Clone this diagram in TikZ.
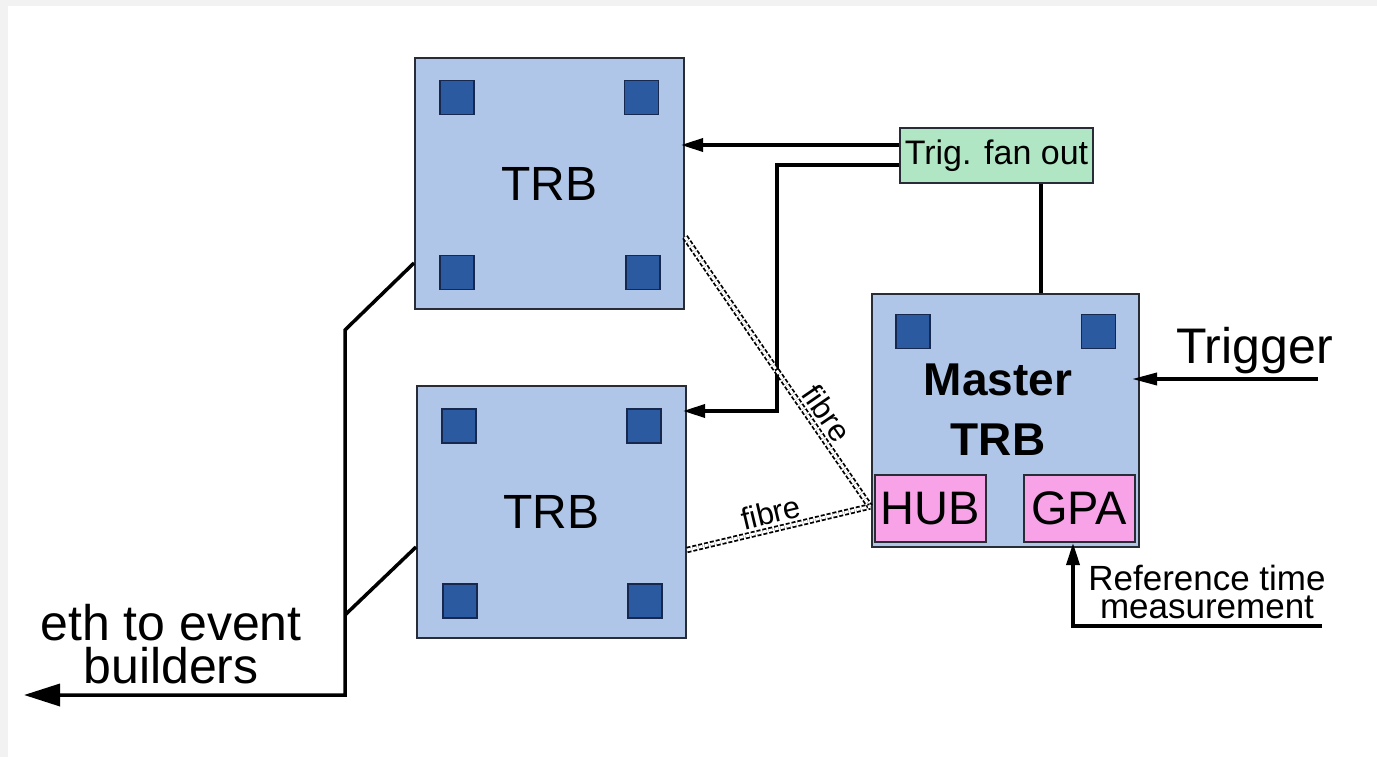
\documentclass[tikz,border=0pt]{standalone}
\usepackage{fontspec}
\setmainfont{Liberation Sans}
\usetikzlibrary{arrows.meta}

\definecolor{pagegray}{RGB}{242,242,242}
\definecolor{boardfill}{RGB}{176,198,232}
\definecolor{boardedge}{RGB}{40,44,54}
\definecolor{padblue}{RGB}{44,90,160}
\definecolor{padedge}{RGB}{22,40,78}
\definecolor{fanfill}{RGB}{176,230,196}
\definecolor{modfill}{RGB}{248,163,232}

\newcommand\sizetxt[2]{\fontsize{#1}{#2}\selectfont}

\begin{document}
\begin{tikzpicture}[x=1pt,y=-1pt,
  board/.style={draw=boardedge, line width=2pt, fill=boardfill, inner sep=0pt},
  pad/.style={draw=padedge, line width=1.5pt, fill=padblue, minimum size=34pt, inner sep=0pt},
  module/.style={draw=boardedge, line width=2pt, fill=modfill, inner sep=0pt,
                 minimum width=111pt, minimum height=67pt, font=\sizetxt{47}{47}},
  fanbox/.style={draw=boardedge, line width=2pt, fill=fanfill, inner sep=0pt,
                 minimum width=193pt, minimum height=55pt, font=\sizetxt{34}{34}},
  wire/.style={line width=3.5pt, black},
  arr/.style={wire, -{Triangle[length=22pt,width=13pt]}},
  fibre/.style={line width=1.8pt, draw=black, double=white, double distance=2.8pt,
                dash pattern=on 4pt off 2pt},
  fibrelbl/.style={font=\sizetxt{31}{31}, sloped, above, inner sep=5pt}
]
\useasboundingbox (0,0) rectangle (1377,757);
\fill[pagegray] (0,0) rectangle (1377,757);
\fill[white] (8,6) rectangle (1377,757);

% readout boards
\node[board, minimum width=269pt, minimum height=251pt, font=\sizetxt{48}{48}]
  (trbA) at (549.5,183.5) {TRB};
\node[board, minimum width=269pt, minimum height=252pt, font=\sizetxt{48}{48}]
  (trbB) at (551.5,512) {TRB};
\node[board, minimum width=267pt, minimum height=253pt] (master) at (1005.5,420.5) {};

% connector pads on the boards
\node[pad] (padA1) at (457,97.5) {};
\node[pad] (padA2) at (641.5,97.5) {};
\node[pad] (padA3) at (457,272.5) {};
\node[pad] (padA4) at (643,272.5) {};
\node[pad] (padB1) at (459,426) {};
\node[pad] (padB2) at (644,426) {};
\node[pad] (padB3) at (460,601) {};
\node[pad] (padB4) at (645,601) {};
\node[pad] (padM1) at (913,331.5) {};
\node[pad] (padM2) at (1098.5,331.5) {};

\node[font=\sizetxt{46}{60}\bfseries, align=center] (mastername) at (998,410)
  {Master\\TRB};

% modules on the master board
\node[module] (hub) at (930.5,508.5) {HUB};
\node[module] (gpa) at (1079,508.5) {GPA};

% trigger fan out
\node[fanbox] (fan) at (996.5,155.5) {Trig. fan out};

% trigger distribution
\coordinate (f1) at ([yshift=10.5pt]fan.west);
\coordinate (f2) at ([yshift=-9.5pt]fan.west);
\coordinate (bendB) at (777,411);
\draw[arr, shorten >=-4pt] (f1) -- (f1 -| trbA.east);
\draw[arr, shorten >=-4pt] (f2) -| (bendB) -- (bendB -| trbB.east);
\coordinate (fd) at ([xshift=44.5pt]fan.south);
\draw[wire] (fd) -- (fd |- master.north);

% external trigger input
\coordinate (trigin) at (1318,379);
\draw[wire, -{Triangle[length=25pt,width=12pt]}, shorten >=-8pt] (trigin) -- (trigin -| master.east);
\node[font=\sizetxt{50}{50}, anchor=base] (triglbl) at (1254.5,363) {Trigger};

% reference time input
\coordinate (refin) at (1322,626);
\coordinate (refc) at (1073,626);
\draw[arr] (refin) -- (refc) -- (refc |- gpa.south);
\node[font=\sizetxt{35}{28}, align=center] (reflbl) at (1207,592)
  {Reference time\\measurement};

% optical links to the hub
\coordinate (fa) at ([yshift=-53.5pt]trbA.east);
\coordinate (fb) at ([yshift=-38pt]trbB.east);
\coordinate (fh) at ([xshift=-4pt,yshift=2pt]hub.west);
\draw[fibre] (fa) -- node[fibrelbl, pos=0.69] {fibre} (fh);
\draw[fibre] (fb) -- node[fibrelbl, pos=0.48] {fibre} (fh);

% ethernet readout
\coordinate (ea) at ([yshift=-79.5pt]trbA.west);
\coordinate (eb) at ([yshift=-35pt]trbB.west);
\coordinate (j1) at (345,330);
\coordinate (j2) at (345,615);
\coordinate (j3) at (345,695);
\coordinate (ethout) at (24,695);
\draw[wire, -{Triangle[length=36pt,width=22pt]}] (ea) -- (j1) -- (j3) -- (ethout);
\draw[wire] (eb) -- (j2);
\node[font=\sizetxt{50}{43}, align=center] (ethlbl) at (171,644)
  {eth to event\\builders};
\end{tikzpicture}
\end{document}
